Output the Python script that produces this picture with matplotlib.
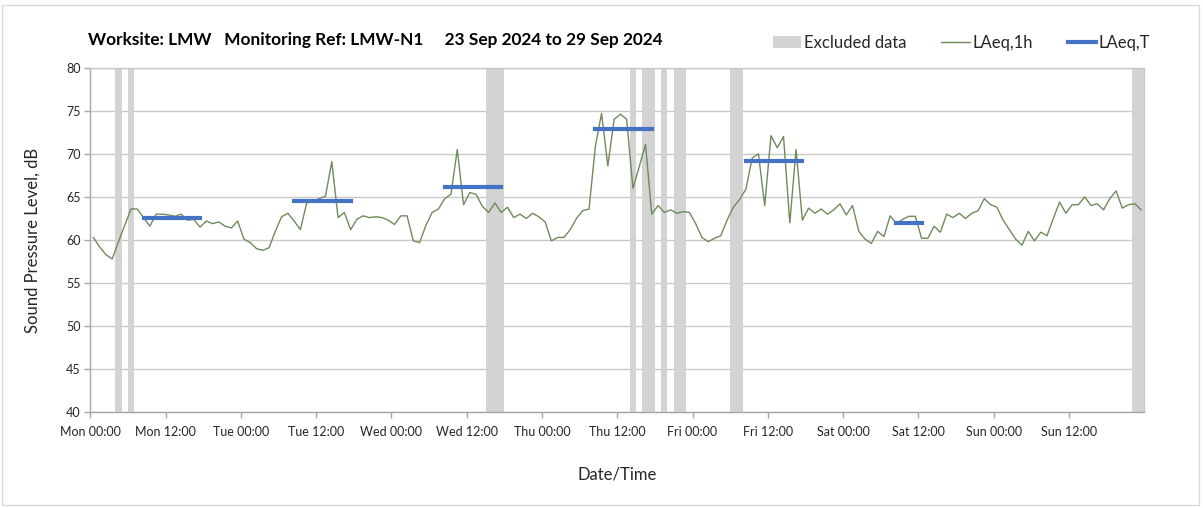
import numpy as np
import matplotlib
matplotlib.use("Agg")
import matplotlib.pyplot as plt
from matplotlib.patches import Rectangle, Patch
from matplotlib.lines import Line2D

# ---------------- data ----------------
# hourly LAeq,1h values, Mon 00:00 .. Sun 23:00 (168 hours)
laeq_1h = [
    # Mon
    60.3, 59.2, 58.3, 57.8, 59.8, 61.7, 63.6, 63.6, 62.6, 61.6, 63.0, 63.0,
    62.9, 62.75, 63.0, 62.3, 62.4, 61.5, 62.2, 61.9, 62.1, 61.6, 61.4, 62.2,
    # Tue
    60.1, 59.7, 59.0, 58.8, 59.1, 61.0, 62.7, 63.1, 62.2, 61.2, 64.3, 64.5,
    64.8, 65.1, 69.1, 62.6, 63.2, 61.2, 62.4, 62.8, 62.6, 62.7, 62.6, 62.3,
    # Wed
    61.8, 62.8, 62.8, 59.9, 59.7, 61.7, 63.2, 63.6, 64.8, 65.3, 70.5, 64.1,
    65.5, 65.3, 63.9, 63.2, 64.3, 63.2, 63.8, 62.6, 63.0, 62.5, 63.1, 62.7,
    # Thu
    62.1, 59.9, 60.3, 60.3, 61.2, 62.5, 63.4, 63.6, 70.8, 74.7, 68.6, 74.0,
    74.6, 74.0, 66.0, 68.5, 71.1, 63.0, 64.0, 63.2, 63.5, 63.1, 63.3, 63.2,
    # Fri
    61.9, 60.3, 59.8, 60.2, 60.5, 62.3, 63.8, 64.7, 65.9, 69.5, 70.0, 64.0,
    72.1, 70.7, 72.0, 62.0, 70.5, 62.3, 63.7, 63.1, 63.6, 63.0, 63.5, 64.2,
    # Sat
    62.9, 64.0, 61.0, 60.1, 59.6, 61.0, 60.4, 62.8, 61.9, 62.4, 62.75, 62.75,
    60.2, 60.2, 61.6, 60.9, 63.0, 62.6, 63.1, 62.5, 63.1, 63.4, 64.8, 64.1,
    # Sun
    63.8, 62.3, 61.2, 60.1, 59.4, 61.0, 59.9, 60.9, 60.5, 62.5, 64.4, 63.1,
    64.1, 64.1, 65.0, 64.0, 64.2, 63.5, 64.8, 65.7, 63.7, 64.1, 64.2, 63.5,
]

# LAeq,T (daytime) periods: day index, start hour, end hour, level
laeqT_day = [0, 1, 2, 3, 4, 5]
laeqT_start = [8, 8, 8, 8, 8, 8]
laeqT_end = [18, 18, 18, 18, 18, 13]
laeqT_level = [62.5, 64.5, 66.2, 72.9, 69.2, 62.0]

# excluded data periods (hours from Mon 00:00)
excl_start = [4, 6, 63, 86, 88, 91, 93, 102, 166]
excl_end = [5, 7, 66, 87, 90, 92, 95, 104, 168]

tick_labels = ["Mon 00:00", "Mon 12:00", "Tue 00:00", "Tue 12:00",
               "Wed 00:00", "Wed 12:00", "Thu 00:00", "Thu 12:00",
               "Fri 00:00", "Fri 12:00", "Sat 00:00", "Sat 12:00",
               "Sun 00:00", "Sun 12:00"]

title = "Worksite: LMW   Monitoring Ref: LMW-N1     23 Sep 2024 to 29 Sep 2024"

# ---------------- style ----------------
plt.rcParams['font.family'] = ['Lato', 'DejaVu Sans']
GREEN = '#6f8b5c'
BLUE = '#4472c4'
EXCL = '#d3d3d3'
TXT = '#262626'

fig = plt.figure(figsize=(12.03, 5.08), dpi=100)
# chart-area border
fig.patches.append(Rectangle((0.0015, 0.006), 0.9955, 0.984, transform=fig.transFigure,
                             fill=False, edgecolor='#d9d9d9', linewidth=1.0))

ax = fig.add_axes([0.0750, 0.1882, 0.8762, 0.6787])

hours = np.arange(len(laeq_1h)) + 0.5

for s, e in zip(excl_start, excl_end):
    ax.axvspan(s, e, color=EXCL, linewidth=0, zorder=1)

ax.plot(hours, laeq_1h, color=GREEN, linewidth=1.0, zorder=3)

for d, s, e, v in zip(laeqT_day, laeqT_start, laeqT_end, laeqT_level):
    ax.plot([d * 24 + s + 0.5, d * 24 + e - 0.5], [v, v], color=BLUE, linewidth=3,
            solid_capstyle='projecting', zorder=4)

ax.set_xlim(0, 168)
ax.set_ylim(40, 80)
ax.set_yticks(np.arange(40, 81, 5))
ax.set_xticks(np.arange(0, 168, 12))
ax.set_xticklabels(tick_labels)
ax.set_xticks(np.arange(24, 168, 24), minor=True)

ax.grid(axis='y', which='major', color='#c9c9c9', linewidth=1.0, zorder=0)
ax.grid(axis='x', which='minor', color='#dcdcdc', linewidth=1.0, zorder=0)
ax.set_axisbelow(True)

for side in ['left', 'bottom']:
    ax.spines[side].set_color('#a6a6a6')
    ax.spines[side].set_linewidth(1.0)
for side in ['top', 'right']:
    ax.spines[side].set_color('#c9c9c9')
    ax.spines[side].set_linewidth(1.0)

ax.tick_params(axis='x', which='major', direction='out', length=4, width=1,
               color='#a6a6a6', labelsize=9, labelcolor=TXT, pad=6)
ax.tick_params(axis='x', which='minor', length=0)
ax.tick_params(axis='y', direction='out', length=4, width=1, color='#a6a6a6',
               labelsize=9, labelcolor=TXT, pad=3)

ax.set_ylabel("Sound Pressure Level, dB", fontsize=12, color=TXT, labelpad=18)
ax.set_xlabel("Date/Time", fontsize=12, color=TXT, labelpad=20)

fig.text(0.0735, 0.922, title, fontsize=12.4, fontweight='bold', color='black',
         ha='left', va='center')

handles = [Patch(facecolor=EXCL, edgecolor='none'),
           Line2D([], [], color=GREEN, linewidth=1.0),
           Line2D([], [], color=BLUE, linewidth=3)]
fig.legend(handles, ["Excluded data", "LAeq,1h", "LAeq,T"], ncol=3, frameon=False,
           loc='center', bbox_to_anchor=(0.7993, 0.916), fontsize=12,
           handlelength=1.7, handletextpad=0.15, columnspacing=2.1,
           labelcolor=TXT)

fig.savefig("out.png", dpi=100)
